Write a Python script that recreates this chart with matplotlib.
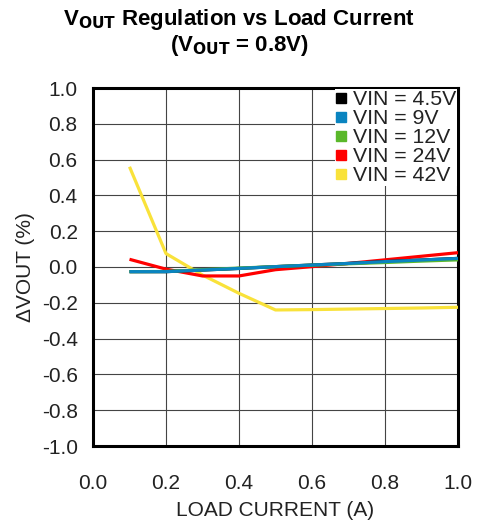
import matplotlib
matplotlib.use("Agg")
import matplotlib.pyplot as plt
from matplotlib.lines import Line2D

plt.rcParams['font.family'] = ['Liberation Sans', 'DejaVu Sans']

load_current = [0.1, 0.2, 0.3, 0.4, 0.5, 0.6, 0.7, 0.8, 0.9, 1.0]
vin_labels = ["VIN = 4.5V", "VIN = 9V", "VIN = 12V", "VIN = 24V", "VIN = 42V"]
colors = ["#000000", "#0a84c0", "#5ab82a", "#ff0000", "#f9e23a"]

d_4v5 = [-0.026, -0.026, -0.017, -0.008, 0.002, 0.011, 0.020, 0.030, 0.039, 0.048]
d_9v = [-0.026, -0.026, -0.017, -0.008, 0.002, 0.011, 0.020, 0.030, 0.039, 0.048]
d_12v = [-0.026, -0.025, -0.015, -0.006, 0.002, 0.010, 0.018, 0.025, 0.033, 0.040]
d_24v = [0.043, -0.012, -0.050, -0.050, -0.015, 0.002, 0.020, 0.040, 0.060, 0.080]
d_42v = [0.56, 0.075, -0.045, -0.147, -0.240, -0.238, -0.235, -0.232, -0.229, -0.225]
series = [d_4v5, d_9v, d_12v, d_24v, d_42v]

x_ticks = [0.0, 0.2, 0.4, 0.6, 0.8, 1.0]
y_ticks = [-1.0, -0.8, -0.6, -0.4, -0.2, 0.0, 0.2, 0.4, 0.6, 0.8, 1.0]

fig = plt.figure(figsize=(4.78, 5.22), dpi=100)
ax = fig.add_axes([93/478, 1 - 446/522, (458-93)/478, (446-88)/522])

for i in [4, 3, 0, 2, 1]:
    ax.plot(load_current, series[i], color=colors[i], lw=2.3, solid_capstyle='butt', zorder=3)

ax.set_xlim(0, 1.0)
ax.set_ylim(-1.0, 1.0)
ax.set_xticks(x_ticks)
ax.set_yticks(y_ticks)
ax.set_xticklabels([f"{v:.1f}" for v in x_ticks])
ax.set_yticklabels([f"{v:.1f}" for v in y_ticks])
ax.tick_params(axis='both', length=0, labelsize=15, colors='#222222')
ax.tick_params(axis='x', pad=20)
ax.tick_params(axis='y', pad=11)
ax.grid(True, color='#444444', lw=0.8)
for s in ax.spines.values():
    s.set_linewidth(2.2)
    s.set_color('black')

ax.set_xlabel("LOAD CURRENT (A)", fontsize=15, color='#222222', labelpad=6)
ax.set_ylabel("ΔVOUT (%)", fontsize=15, color='#222222', labelpad=5)

fig.text(0.5, 1 - 20/522, r"V$_{\mathbf{OUT}}$ Regulation vs Load Current", ha='center', va='center',
         fontsize=16, fontweight='bold')
fig.text(0.5, 1 - 46/522, r"(V$_{\mathbf{OUT}}$ = 0.8V)", ha='center', va='center',
         fontsize=16, fontweight='bold')

handles = [Line2D([], [], marker='s', color='none', markerfacecolor=c, markeredgecolor=c, markersize=7.5)
           for c in colors]
leg = ax.legend(handles, vin_labels, loc='upper right', bbox_to_anchor=(1.0, 1.0), frameon=True,
                fontsize=15.3, handlelength=0.55, handletextpad=0.25, labelspacing=0.0,
                borderpad=0.05, borderaxespad=0.05, fancybox=False)
leg.get_frame().set_facecolor('white')
leg.get_frame().set_edgecolor('none')
leg.get_frame().set_alpha(1)
for t in leg.get_texts():
    t.set_color('#222222')
leg.set_zorder(5)

fig.savefig("out.png", dpi=100)
